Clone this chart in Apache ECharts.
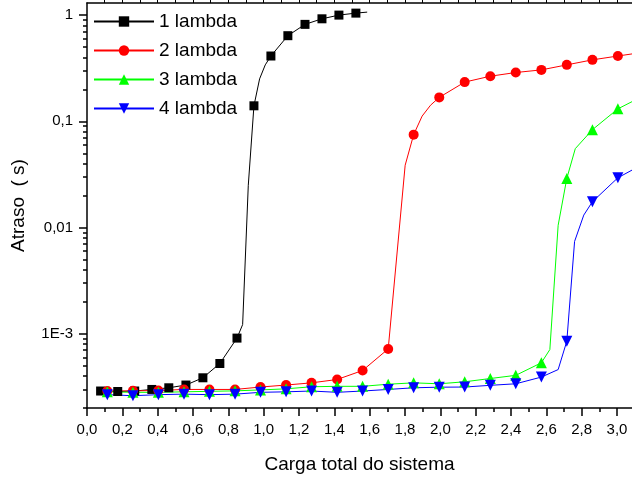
<!DOCTYPE html>
<html>
<head>
<meta charset="utf-8">
<script src="https://cdn.jsdelivr.net/npm/echarts@6/dist/echarts.min.js"></script>
<style>
  html, body { margin: 0; padding: 0; background: #fff; }
  #chart { width: 632px; height: 479px; }
</style>
</head>
<body>
<div id="chart"></div>
<script>
// 1 lambda: points with markers
const l1X = [0.077, 0.174, 0.270, 0.367, 0.463, 0.560, 0.656, 0.752, 0.849, 0.945, 1.041, 1.137, 1.234, 1.330, 1.426, 1.522]
const l1Y = [2.89e-4, 2.86e-4, 2.89e-4, 2.99e-4, 3.10e-4, 3.29e-4, 3.85e-4, 5.25e-4, 9.1e-4, 0.140, 0.412, 0.640, 0.818, 0.923, 1.00, 1.044]
// 1 lambda: extra line points without markers
const l1LineX = [0.881, 0.913, 0.977, 1.009, 1.586]
const l1LineY = [1.22e-3, 0.025, 0.251, 0.340, 1.067]

// 2, 3, 4 lambda share the same x for their markers
const lX = [0.115, 0.260, 0.404, 0.549, 0.693, 0.838, 0.982, 1.127, 1.271, 1.416, 1.560, 1.705, 1.849, 1.994, 2.138, 2.283, 2.427, 2.572, 2.716, 2.861, 3.005]

const l2Y = [2.89e-4, 2.90e-4, 2.92e-4, 2.99e-4, 2.99e-4, 2.99e-4, 3.15e-4, 3.29e-4, 3.45e-4, 3.71e-4, 4.51e-4, 7.2e-4, 0.0749, 0.168, 0.234, 0.266, 0.288, 0.305, 0.340, 0.379, 0.412]
const l2LineX = [1.801, 1.897, 1.945, 3.101]
const l2LineY = [0.0386, 0.112, 0.142, 0.435]

const l3Y = [2.84e-4, 2.81e-4, 2.81e-4, 2.84e-4, 2.87e-4, 2.90e-4, 2.96e-4, 3.03e-4, 3.17e-4, 3.20e-4, 3.20e-4, 3.35e-4, 3.45e-4, 3.38e-4, 3.53e-4, 3.79e-4, 4.06e-4, 5.33e-4, 0.029, 0.0834, 0.131]
const l3LineX = [2.620, 2.667, 2.764, 3.101]
const l3LineY = [7.1e-4, 0.0105, 0.0553, 0.158]

const l4Y = [2.67e-4, 2.61e-4, 2.67e-4, 2.70e-4, 2.67e-4, 2.70e-4, 2.81e-4, 2.84e-4, 2.89e-4, 2.81e-4, 2.89e-4, 2.99e-4, 3.10e-4, 3.14e-4, 3.15e-4, 3.27e-4, 3.38e-4, 3.91e-4, 8.5e-4, 0.0175, 0.0294]
const l4LineX = [2.667, 2.760, 2.812, 3.101]
const l4LineY = [4.6e-4, 7.4e-3, 0.0131, 0.0359]

// ticks
const xMajor = [0, 0.2, 0.4, 0.6, 0.8, 1.0, 1.2, 1.4, 1.6, 1.8, 2.0, 2.2, 2.4, 2.6, 2.8, 3.0]
const xMinor = [0.1, 0.3, 0.5, 0.7, 0.9, 1.1, 1.3, 1.5, 1.7, 1.9, 2.1, 2.3, 2.5, 2.7, 2.9]
const xTop = [0.1, 0.2, 0.3, 0.4, 0.5, 0.6, 0.7, 0.8, 0.9, 1.0, 1.1, 1.2, 1.3, 1.4, 1.5, 1.6, 1.7, 1.8, 1.9, 2.0, 2.1, 2.2, 2.3, 2.4, 2.5, 2.6, 2.7, 2.8, 2.9, 3.0]
const yMajor = [0.001, 0.01, 0.1, 1]
const yMinor = [2e-4, 3e-4, 4e-4, 5e-4, 6e-4, 7e-4, 8e-4, 9e-4,
  2e-3, 3e-3, 4e-3, 5e-3, 6e-3, 7e-3, 8e-3, 9e-3,
  0.02, 0.03, 0.04, 0.05, 0.06, 0.07, 0.08, 0.09,
  0.2, 0.3, 0.4, 0.5, 0.6, 0.7, 0.8, 0.9]
const yLabels = { '-3': '1E-3', '-2': '0,01', '-1': '0,1', '0': '1' }

function buildData(mx, my, lx, ly) {
  const pts = mx.map((x, i) => ({ value: [x, my[i]] }))
  lx.forEach((x, i) => pts.push({ value: [x, ly[i]], symbol: 'none' }))
  pts.sort((a, b) => a.value[0] - b.value[0])
  return pts
}

const font = 'Liberation Sans, Arial, sans-serif'
const axisColor = '#000'
const xMin = 0, xMax = 3.085
const yMin = 2e-4, yMax = 1.3

const myChart = echarts.init(document.getElementById('chart'))

const option = {
  animation: false,
  grid: { left: 87, right: 0, top: 3, bottom: 68 },
  legend: {
    orient: 'vertical',
    left: 93,
    top: 12,
    padding: 0,
    itemWidth: 60,
    itemHeight: 13,
    itemGap: 10,
    textStyle: { fontFamily: font, fontSize: 19, color: '#000' },
    data: ['1 lambda', '2 lambda', '3 lambda', '4 lambda']
  },
  xAxis: [
    {
      type: 'value', position: 'bottom', min: xMin, max: xMax,
      name: 'Carga total do sistema', nameLocation: 'middle', nameGap: 47,
      nameTextStyle: { fontFamily: font, fontSize: 19, color: '#000' },
      axisLine: { show: true, lineStyle: { color: axisColor, width: 1.5 } },
      axisTick: { show: true, length: 8, customValues: xMajor, lineStyle: { color: axisColor, width: 1.5 } },
      axisLabel: {
        customValues: xMajor, margin: 14, fontFamily: font, fontSize: 15, color: '#000',
        formatter: v => v.toFixed(1).replace('.', ',')
      },
      splitLine: { show: false }
    },
    {
      type: 'value', position: 'bottom', min: xMin, max: xMax,
      axisLine: { show: false },
      axisTick: { show: true, length: 4, customValues: xMinor, lineStyle: { color: axisColor, width: 1.5 } },
      axisLabel: { show: false },
      splitLine: { show: false }
    },
    {
      type: 'value', position: 'top', min: xMin, max: xMax,
      axisLine: { show: true, lineStyle: { color: axisColor, width: 1.5 } },
      axisTick: { show: true, length: 3, customValues: xTop, lineStyle: { color: axisColor, width: 1 } },
      axisLabel: { show: false },
      splitLine: { show: false }
    }
  ],
  yAxis: [
    {
      type: 'log', logBase: 10, position: 'left', min: yMin, max: yMax,
      name: 'Atraso  ( s)', nameLocation: 'middle', nameGap: 59,
      nameTextStyle: { fontFamily: font, fontSize: 19, color: '#000' },
      axisLine: { show: true, lineStyle: { color: axisColor, width: 1.5 } },
      axisTick: { show: true, length: 8, customValues: yMajor, lineStyle: { color: axisColor, width: 1.5 } },
      axisLabel: {
        customValues: yMajor, margin: 14, fontFamily: font, fontSize: 15, color: '#000',
        formatter: v => yLabels[String(Math.round(Math.log10(v)))] || ''
      },
      splitLine: { show: false }
    },
    {
      type: 'log', logBase: 10, position: 'left', min: yMin, max: yMax,
      axisLine: { show: false },
      axisTick: { show: true, length: 4, customValues: yMinor, lineStyle: { color: axisColor, width: 1.5 } },
      axisLabel: { show: false },
      splitLine: { show: false }
    }
  ],
  series: [
    {
      name: '1 lambda', type: 'line', symbol: 'rect', symbolSize: 9,
      color: '#000000', lineStyle: { width: 1, color: '#000000' },
      data: buildData(l1X, l1Y, l1LineX, l1LineY)
    },
    {
      name: '2 lambda', type: 'line', symbol: 'circle', symbolSize: 10,
      color: '#ff0000', lineStyle: { width: 1, color: '#ff0000' },
      data: buildData(lX, l2Y, l2LineX, l2LineY)
    },
    {
      name: '3 lambda', type: 'line', symbol: 'triangle', symbolSize: 11,
      color: '#00ff00', lineStyle: { width: 1, color: '#00ff00' },
      data: buildData(lX, l3Y, l3LineX, l3LineY)
    },
    {
      name: '4 lambda', type: 'line', symbol: 'triangle', symbolSize: 11, symbolRotate: 180,
      color: '#0000ff', lineStyle: { width: 1, color: '#0000ff' },
      data: buildData(lX, l4Y, l4LineX, l4LineY)
    }
  ]
}

myChart.setOption(option)
</script>
</body>
</html>
